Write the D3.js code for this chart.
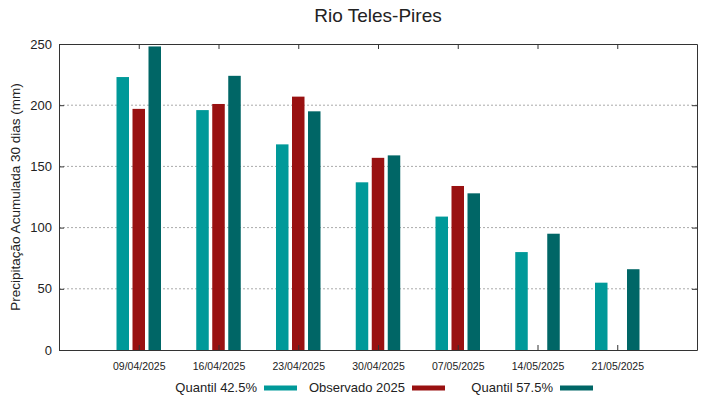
<!DOCTYPE html>
<html>
<head>
<meta charset="utf-8">
<script src="https://cdn.jsdelivr.net/npm/d3@7"></script>
<style>
  body { margin: 0; background: #fff; }
  text { font-family: "Liberation Sans", Arial, sans-serif; fill: #222; }
</style>
</head>
<body>
<div id="chart"></div>
<script>
var categories = ["09/04/2025", "16/04/2025", "23/04/2025", "30/04/2025", "07/05/2025", "14/05/2025", "21/05/2025"];
var quantil425 = [223, 196, 168, 137, 109, 80, 55];
var observado = [197, 201, 207, 157, 134, null, null];
var quantil575 = [248, 224, 195, 159, 128, 95, 66];
var yTicks = [0, 50, 100, 150, 200, 250];

var series = [
    { name: "Quantil 42.5%", values: quantil425, color: "#009999", offset: -16 },
    { name: "Observado 2025", values: observado, color: "#991111", offset: 0 },
    { name: "Quantil 57.5%", values: quantil575, color: "#006666", offset: 16 }
];

var width = 719, height = 399;
var margin = { top: 44, right: 22, bottom: 49, left: 59 };

var svg = d3.select("#chart").append("svg")
    .attr("width", width)
    .attr("height", height);

var x = d3.scaleLinear().domain([0, categories.length + 1]).range([margin.left, width - margin.right]);
var y = d3.scaleLinear().domain([0, 250]).range([height - margin.bottom, margin.top]);

// grid
svg.append("g").selectAll("line")
    .data(yTicks.filter(function (d) { return d > 0 && d < 250; }))
    .enter().append("line")
    .attr("x1", margin.left).attr("x2", width - margin.right)
    .attr("y1", function (d) { return y(d); }).attr("y2", function (d) { return y(d); })
    .attr("stroke", "#aaa").attr("stroke-width", 1)
    .attr("stroke-dasharray", "2,2");

// bars
var barW = 12.5;
series.forEach(function (s) {
    svg.append("g").selectAll("rect")
        .data(s.values.map(function (v, i) { return { v: v, i: i }; }).filter(function (d) { return d.v != null; }))
        .enter().append("rect")
        .attr("x", function (d) { return x(d.i + 1) + s.offset - barW / 2; })
        .attr("y", function (d) { return y(d.v); })
        .attr("width", barW)
        .attr("height", function (d) { return y(0) - y(d.v); })
        .attr("fill", s.color);
});

// axes (ticks pointing inward, mirrored)
var xTickVals = d3.range(1, categories.length + 1);
svg.append("g")
    .attr("transform", "translate(0," + y(0) + ")")
    .call(d3.axisBottom(x).tickValues(xTickVals).tickSizeInner(-5).tickSizeOuter(0)
        .tickFormat(function (d) { return categories[d - 1]; }))
    .call(function (g) {
        g.selectAll("text").attr("y", 13).attr("font-size", 10.5).attr("font-family", "Liberation Sans, Arial, sans-serif").attr("fill", "#222");
    });
svg.append("g")
    .attr("transform", "translate(0," + y(250) + ")")
    .call(d3.axisTop(x).tickValues(xTickVals).tickSizeInner(-5).tickSizeOuter(0).tickFormat(""));
svg.append("g")
    .attr("transform", "translate(" + margin.left + ",0)")
    .call(d3.axisLeft(y).tickValues(yTicks).tickSizeInner(-5).tickSizeOuter(0))
    .call(function (g) {
        g.selectAll("text").attr("x", -7).attr("font-size", 13).attr("font-family", "Liberation Sans, Arial, sans-serif").attr("fill", "#222");
    });
svg.append("g")
    .attr("transform", "translate(" + (width - margin.right) + ",0)")
    .call(d3.axisRight(y).tickValues(yTicks).tickSizeInner(-5).tickSizeOuter(0).tickFormat(""));
svg.selectAll(".domain").attr("stroke", "#333");
svg.selectAll(".tick line").attr("stroke", "#333");

// title
svg.append("text")
    .attr("x", 378).attr("y", 22)
    .attr("text-anchor", "middle")
    .attr("font-size", 19)
    .text("Rio Teles-Pires");

// y label
svg.append("text")
    .attr("transform", "translate(20," + ((margin.top + height - margin.bottom) / 2) + ") rotate(-90)")
    .attr("text-anchor", "middle")
    .attr("font-size", 13.5)
    .text("Precipitação Acumulada 30 dias (mm)");

// legend
var legend = svg.append("g");
series.forEach(function (s, i) {
    var sx = 264 + i * 148;
    legend.append("text")
        .attr("x", sx - 7).attr("y", 392)
        .attr("text-anchor", "end")
        .attr("font-size", 13)
        .text(s.name);
    legend.append("rect")
        .attr("x", sx).attr("y", 385.5)
        .attr("width", 33).attr("height", 5)
        .attr("fill", s.color);
});
</script>
</body>
</html>
